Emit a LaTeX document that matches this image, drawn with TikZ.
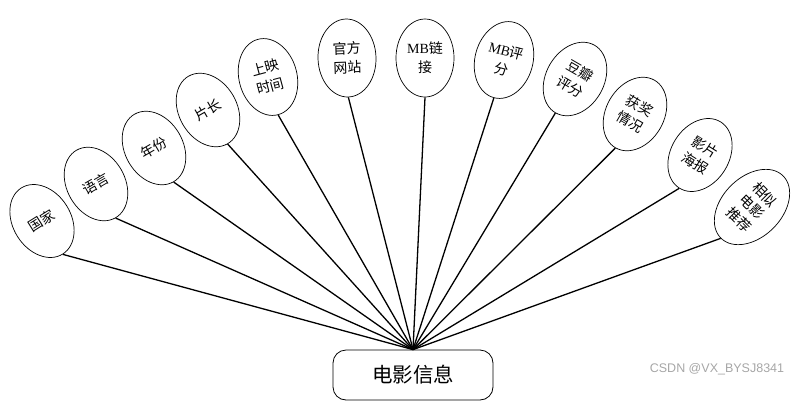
\documentclass[tikz,border=0pt]{standalone}
\usepackage{fontspec}
\setmainfont{Liberation Serif}
\newfontfamily\cjk{Noto Sans CJK SC}
\newfontfamily\wmfont{Liberation Sans}
\usetikzlibrary{shapes.geometric}
\tikzset{
  attr/.style={draw, ellipse, line width=0.7pt, minimum width=58pt, minimum height=78pt,
    inner sep=0pt, align=center, font=\fontsize{14}{19}\selectfont\cjk},
  entity/.style={draw, rounded corners=13pt, line width=0.8pt, minimum width=160pt,
    minimum height=50pt, inner sep=0pt, font=\fontsize{20.5}{22}\selectfont\cjk},
  link/.style={line width=1.3pt}
}
\begin{document}
\begin{tikzpicture}[x=1pt,y=-1pt]
\useasboundingbox (0,0) rectangle (798,413);
\node[entity] (m) at (413,375) {电影信息};
\node[attr, rotate=32] (a1) at (42,221) {国家};
\node[attr, rotate=30] (a2) at (96,184) {语言};
\node[attr, rotate=30] (a3) at (154,148) {年份};
\node[attr, rotate=30] (a4) at (208,110) {片长};
\node[attr, rotate=15] (a5) at (268,77) {上映\\时间};
\node[attr, rotate=2] (a6) at (347,58) {官方\\网站};
\node[attr] (a7) at (425,58) {{\rmfamily MB}链\\接};
\node[attr, rotate=-15] (a8) at (504,60) {{\rmfamily MB}评\\分};
\node[attr, rotate=-30] (a9) at (575,79) {豆瓣\\评分};
\node[attr, rotate=-30] (a10) at (635,114) {获奖\\情况};
\node[attr, rotate=-32] (a11) at (700,155) {影片\\海报};
\node[attr, rotate=-45, minimum height=88pt, minimum width=60pt, font=\fontsize{14}{18}\selectfont\cjk] (a12) at (752,207) {相似\\电影\\推荐};
\foreach \i in {1,...,12} \draw[link] (m.north) -- (a\i.south);
\node[text=black!35, font=\fontsize{12.5}{14}\selectfont\wmfont] (wm) at (717,369) {CSDN @VX\_BYSJ8341};
\end{tikzpicture}
\end{document}
